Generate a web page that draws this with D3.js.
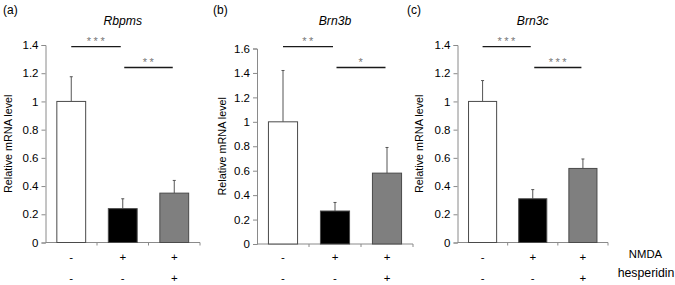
<!DOCTYPE html>
<html>
<head>
<meta charset="utf-8">
<script src="https://cdn.jsdelivr.net/npm/d3@7"></script>
<style>
  body { margin: 0; background: #fff; }
  svg { display: block; font-family: Arial, "Liberation Sans", sans-serif; }
</style>
</head>
<body>
<div id="chart"></div>
<script>
// data
const groups = ["control", "NMDA", "NMDA+hesperidin"]
const nmdaRow = ["-", "+", "+"]
const hespRow = ["-", "-", "+"]
const genes = ["Rbpms", "Brn3b", "Brn3c"]
const panelTags = ["(a)", "(b)", "(c)"]
const yMax = [1.4, 1.6, 1.4]
const rbpmsMean = [1.0, 0.24, 0.35]
const rbpmsErr = [0.175, 0.07, 0.09]
const brn3bMean = [1.0, 0.27, 0.58]
const brn3bErr = [0.42, 0.07, 0.21]
const brn3cMean = [1.0, 0.31, 0.525]
const brn3cErr = [0.148, 0.065, 0.067]
const sigMarks = [["***", "**"], ["**", "*"], ["***", "***"]]

const means = [rbpmsMean, brn3bMean, brn3cMean]
const errs = [rbpmsErr, brn3bErr, brn3cErr]
const barFill = ["#ffffff", "#000000", "#7f7f7f"]

const width = 675, height = 285

// panel frames (pixels)
const frames = [
  { left: 45.5, right: 200, top: 45, bottom: 242.5, tagX: 3, labX: 8 },
  { left: 257, right: 413, top: 48.5, bottom: 244, tagX: 213, labX: 222 },
  { left: 457.5, right: 608, top: 45, bottom: 242.5, tagX: 407, labX: 418.5 }
]

const svg = d3.select("#chart").append("svg")
  .attr("width", width)
  .attr("height", height)

genes.forEach((gene, p) => {
  const f = frames[p]
  const g = svg.append("g")

  const x = d3.scaleBand().domain(groups).range([f.left, f.right])
    .paddingInner(0.44).paddingOuter(0.22)
  const y = d3.scaleLinear().domain([0, yMax[p]]).range([f.bottom, f.top])

  // y axis
  const yAxis = g.append("g")
    .attr("transform", `translate(${f.left},0)`)
    .call(d3.axisLeft(y).ticks(7).tickSize(4).tickPadding(3)
      .tickFormat(d => d3.format("~g")(+d.toFixed(1))))
  yAxis.select(".domain").attr("stroke", "#8a8a8a")
  yAxis.selectAll(".tick line").attr("stroke", "#8a8a8a")
  yAxis.selectAll("text")
    .attr("fill", "#000")
    .style("font-size", "11.5px")
    .style("font-family", "Arial, 'Liberation Sans', sans-serif")

  // x axis baseline with ticks at band boundaries
  g.append("line")
    .attr("x1", f.left).attr("x2", f.right)
    .attr("y1", f.bottom).attr("y2", f.bottom)
    .attr("stroke", "#8a8a8a")
  groups.forEach((c, i) => {
    const bx = f.left + x.step() * (i + 1)
    g.append("line")
      .attr("x1", bx).attr("x2", bx)
      .attr("y1", f.bottom).attr("y2", f.bottom + 3)
      .attr("stroke", "#8a8a8a")
  })

  // error bars (upper only)
  const err = g.selectAll(".err").data(groups).enter().append("g")
  err.append("line")
    .attr("x1", d => x(d) + x.bandwidth() / 2)
    .attr("x2", d => x(d) + x.bandwidth() / 2)
    .attr("y1", (d, i) => y(means[p][i]))
    .attr("y2", (d, i) => y(means[p][i] + errs[p][i]))
    .attr("stroke", "#555")
  err.append("line")
    .attr("x1", d => x(d) + x.bandwidth() / 2 - 1.5)
    .attr("x2", d => x(d) + x.bandwidth() / 2 + 1.5)
    .attr("y1", (d, i) => y(means[p][i] + errs[p][i]))
    .attr("y2", (d, i) => y(means[p][i] + errs[p][i]))
    .attr("stroke", "#555")

  // bars
  g.selectAll(".bar").data(groups).enter().append("rect")
    .attr("x", d => x(d))
    .attr("y", (d, i) => y(means[p][i]))
    .attr("width", x.bandwidth())
    .attr("height", (d, i) => f.bottom - y(means[p][i]))
    .attr("fill", (d, i) => barFill[i])
    .attr("stroke", "#4a4a4a")
    .attr("stroke-width", 1)

  // significance brackets
  const c = groups.map(d => x(d) + x.bandwidth() / 2)
  const sigLines = [
    { x1: c[0], x2: c[1] - 2, y: 46.7, mark: sigMarks[p][0] },
    { x1: c[1] + 1.5, x2: c[2] - 1.5, y: 67.5, mark: sigMarks[p][1] }
  ]
  sigLines.forEach(s => {
    g.append("line")
      .attr("x1", s.x1).attr("x2", s.x2)
      .attr("y1", s.y).attr("y2", s.y)
      .attr("stroke", "#1a1a1a")
      .attr("stroke-width", 1.3)
    g.append("text")
      .attr("x", (s.x1 + s.x2) / 2 + 1)
      .attr("y", s.y - 1.5)
      .attr("text-anchor", "middle")
      .attr("fill", "#777")
      .style("font-size", "11px")
      .style("letter-spacing", "2.5px")
      .text(s.mark)
  })

  // title
  g.append("text")
    .attr("x", (f.left + f.right) / 2)
    .attr("y", 25)
    .attr("text-anchor", "middle")
    .style("font-size", "12.2px")
    .style("font-style", "italic")
    .text(gene)

  // panel tag
  g.append("text")
    .attr("x", f.tagX)
    .attr("y", 13.5)
    .style("font-size", "12px")
    .text(panelTags[p])

  // y label
  g.append("text")
    .attr("transform", `translate(${f.labX + 4},${(f.top + f.bottom) / 2}) rotate(-90)`)
    .attr("text-anchor", "middle")
    .style("font-size", "10.8px")
    .text("Relative mRNA level")

  // treatment rows
  g.selectAll(".row1").data(groups).enter().append("text")
    .attr("x", d => x(d) + x.bandwidth() / 2)
    .attr("y", 260.5)
    .attr("text-anchor", "middle")
    .style("font-size", "11.5px")
    .text((d, i) => nmdaRow[i])
  g.selectAll(".row2").data(groups).enter().append("text")
    .attr("x", d => x(d) + x.bandwidth() / 2)
    .attr("y", 281.5)
    .attr("text-anchor", "middle")
    .style("font-size", "11.5px")
    .text((d, i) => hespRow[i])
})

// row names
svg.append("text")
  .attr("x", 645.5).attr("y", 257.5)
  .attr("text-anchor", "middle")
  .style("font-size", "11.3px")
  .text("NMDA")
svg.append("text")
  .attr("x", 646).attr("y", 276.5)
  .attr("text-anchor", "middle")
  .style("font-size", "12.3px")
  .text("hesperidin")
</script>
</body>
</html>
